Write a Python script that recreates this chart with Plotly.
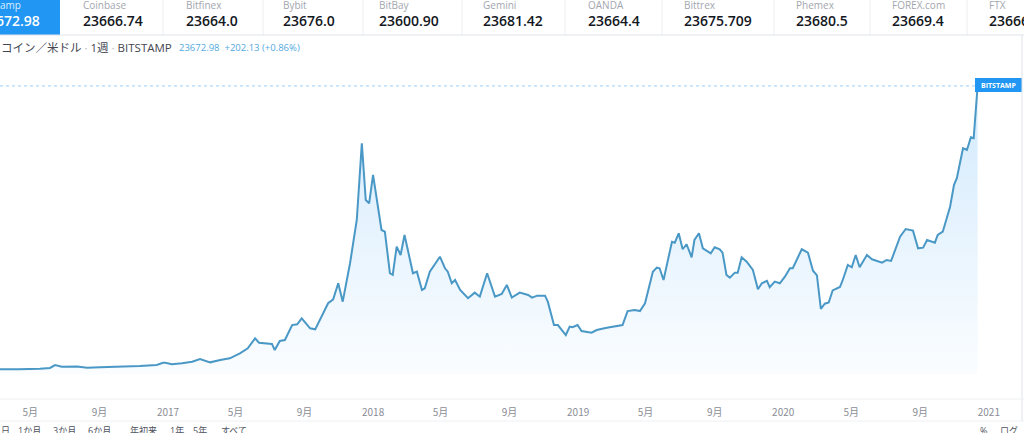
import plotly.graph_objects as go

W, H = 1024, 433

# weekly BTC/USD closes (Bitstamp)
dates = [
    "2016-03-01", "2016-03-08", "2016-04-10", "2016-05-18", "2016-06-05", "2016-06-14",
    "2016-06-26", "2016-07-23", "2016-08-10", "2016-09-02", "2016-10-02", "2016-11-12",
    "2016-12-12", "2016-12-23", "2016-12-27", "2017-01-08", "2017-01-26", "2017-02-13",
    "2017-02-27", "2017-03-17", "2017-04-04", "2017-04-21", "2017-05-09", "2017-05-23",
    "2017-06-05", "2017-06-12", "2017-07-05", "2017-07-10", "2017-07-19", "2017-07-28",
    "2017-08-10", "2017-08-19", "2017-08-27", "2017-09-11", "2017-09-20", "2017-09-28",
    "2017-10-13", "2017-10-22", "2017-10-31", "2017-11-08", "2017-11-21", "2017-12-03",
    "2017-12-12", "2017-12-19", "2017-12-25", "2018-01-01", "2018-01-16", "2018-01-22",
    "2018-01-31", "2018-02-05", "2018-02-12", "2018-02-19", "2018-02-26", "2018-03-13",
    "2018-03-20", "2018-03-29", "2018-04-03", "2018-04-12", "2018-04-30", "2018-05-09",
    "2018-05-14", "2018-05-21", "2018-05-27", "2018-06-05", "2018-06-19", "2018-07-01",
    "2018-07-10", "2018-07-23", "2018-08-06", "2018-08-18", "2018-08-27", "2018-09-05",
    "2018-09-19", "2018-10-04", "2018-10-11", "2018-10-20", "2018-11-03", "2018-11-08",
    "2018-11-19", "2018-11-26", "2018-12-10", "2018-12-17", "2018-12-22", "2018-12-31",
    "2019-01-07", "2019-01-25", "2019-02-03", "2019-02-21", "2019-03-11", "2019-03-21",
    "2019-03-30", "2019-04-12", "2019-04-21", "2019-04-30", "2019-05-14", "2019-05-21",
    "2019-05-26", "2019-06-02", "2019-06-17", "2019-06-22", "2019-06-29", "2019-07-06",
    "2019-07-13", "2019-07-22", "2019-07-27", "2019-08-04", "2019-08-11", "2019-08-25",
    "2019-09-01", "2019-09-10", "2019-09-15", "2019-09-22", "2019-09-28", "2019-10-07",
    "2019-10-12", "2019-10-19", "2019-10-28", "2019-11-08", "2019-11-17", "2019-11-24",
    "2019-12-03", "2019-12-08", "2019-12-17", "2019-12-26", "2020-01-04", "2020-01-13",
    "2020-01-18", "2020-02-03", "2020-02-14", "2020-02-23", "2020-03-01", "2020-03-08",
    "2020-03-15", "2020-03-22", "2020-03-29", "2020-04-11", "2020-04-16", "2020-04-25",
    "2020-05-02", "2020-05-09", "2020-05-16", "2020-05-29", "2020-06-07", "2020-06-25",
    "2020-07-03", "2020-07-11", "2020-07-27", "2020-08-06", "2020-08-19", "2020-08-28",
    "2020-09-06", "2020-09-13", "2020-09-27", "2020-10-02", "2020-10-11", "2020-10-18",
    "2020-10-24", "2020-10-31", "2020-11-05", "2020-11-16", "2020-11-23", "2020-11-30",
    "2020-12-05", "2020-12-12",
]
closes = [
    430, 420, 420, 460, 530, 770,
    630, 640, 550, 580, 600, 690,
    770, 960, 950, 830, 910, 1040,
    1260, 990, 1180, 1320, 1730, 2140,
    2960, 2600, 2500, 2000, 2740, 2820,
    4050, 4110, 4600, 3780, 3700, 4460,
    5840, 6160, 7480, 5970, 9120, 12670,
    18970, 14310, 14040, 16370, 11850, 11710,
    8300, 8160, 10480, 9800, 11440, 8300,
    8430, 6930, 7070, 8430, 9660, 8710,
    8430, 7480, 7750, 6930, 6250, 6710,
    6380, 8300, 6380, 6600, 7340, 6300,
    6710, 6520, 6300, 6460, 6460, 5970,
    4050, 4050, 3230, 3920, 3870, 4050,
    3560, 3420, 3640, 3830, 3970, 4050,
    5200, 5290, 5200, 5840, 8430, 8760,
    8710, 7750, 10890, 10810, 11580, 10270,
    10680, 9610, 11030, 11580, 10350, 9940,
    10430, 10270, 9990, 8160, 7940, 8350,
    8350, 9610, 9250, 8570, 6990, 7480,
    7670, 7150, 7610, 7480, 8020, 8710,
    8710, 10270, 9990, 8510, 8120, 5380,
    5800, 5900, 6890, 7170, 7750, 8980,
    8790, 9800, 8790, 9800, 9450, 9170,
    9390, 9310, 11300, 11930, 11800, 10350,
    10400, 11030, 10810, 11440, 11710, 12940,
    13760, 15550, 16100, 18560, 18420, 19460,
    19380, 23672.98,
]

tick_dates = ["2016-05-01", "2016-09-01", "2017-01-01", "2017-05-01", "2017-09-01",
              "2018-01-01", "2018-05-01", "2018-09-01", "2019-01-01", "2019-05-01",
              "2019-09-01", "2020-01-01", "2020-05-01", "2020-09-01", "2021-01-01"]
tick_text = ["5月", "9月", "2017", "5月", "9月", "2018", "5月", "9月", "2019", "5月",
             "9月", "2020", "5月", "9月", "2021"]

exchanges = ["Coinbase", "Bitfinex", "Bybit", "BitBay", "Gemini", "OANDA",
             "Bittrex", "Phemex", "FOREX.com", "FTX"]
quotes = ["23666.74", "23664.0", "23676.0", "23600.90", "23681.42", "23664.4",
          "23675.709", "23680.5", "23669.4", "23666.0"]
last_price = 23672.98

ranges = ["日", "1か月", "3か月", "6か月", "年初来", "1年", "5年", "すべて"]


def fx(p):
    return p / W


def fy(p):
    return 1 - p / H


FONT = "Open Sans, Noto Sans CJK JP, sans-serif"
BLUE = "#2196f3"
GRID = "#e0e3eb"

trace = go.Scatter(
    x=dates, y=closes, mode="lines",
    line=dict(color="#4a98c6", width=2),
    fill="tozeroy",
    fillgradient=dict(type="vertical",
                      colorscale=[[0, "rgba(33,150,243,0.02)"], [1, "rgba(33,150,243,0.2)"]]),
    hoverinfo="skip",
)

fig = go.Figure(trace)

shapes = []
annotations = []

# ticker strip
shapes.append(dict(type="rect", xref="paper", yref="paper", x0=-0.1, x1=fx(60),
                   y0=fy(35), y1=fy(-5), fillcolor=BLUE, line_width=0, layer="below"))
annotations.append(dict(x=fx(-23), y=fy(5), text="Bitstamp", font=dict(size=10, color="#dbeeff", family=FONT)))
annotations.append(dict(x=fx(-22), y=fy(20), text="23672.98",
                        font=dict(size=14, color="white", family=FONT, weight=600)))
seps = [163, 263, 363, 462, 565, 662, 774, 870, 967]
for s in seps:
    shapes.append(dict(type="line", xref="paper", yref="paper", x0=fx(s), x1=fx(s),
                       y0=fy(0), y1=fy(35), line=dict(color="#eceef2", width=1)))
lefts = [81, 184, 281, 377, 481, 586, 682, 794, 890, 987]
for lx, ex, q in zip(lefts, exchanges, quotes):
    annotations.append(dict(x=fx(lx), y=fy(5), text=ex, font=dict(size=10, color="#a3a6af", family=FONT)))
    annotations.append(dict(x=fx(lx), y=fy(20), text=q,
                            font=dict(size=14, color="#131722", family=FONT, weight=600)))
shapes.append(dict(type="line", xref="paper", yref="paper", x0=0, x1=1, y0=fy(35), y1=fy(35),
                   line=dict(color=GRID, width=1)))

# legend line
annotations.append(dict(x=fx(-1), y=fy(48),
                        text="コイン／米ドル <span style='color:#b2b5be'>·</span> 1週 <span style='color:#b2b5be'>·</span> BITSTAMP",
                        font=dict(size=11.5, color="#434651", family=FONT)))
annotations.append(dict(x=fx(177), y=fy(48), text="23672.98  +202.13 (+0.86%)",
                        font=dict(size=9.5, color="#53a9e0", family=FONT)))

# last price line and label
shapes.append(dict(type="line", xref="paper", yref="y", x0=0, x1=fx(975), y0=last_price, y1=last_price,
                   line=dict(color="rgba(33,150,243,0.45)", width=1, dash="dot")))
shapes.append(dict(type="rect", xref="paper", yref="paper", x0=fx(975), x1=fx(1022),
                   y0=fy(92), y1=fy(78), fillcolor=BLUE, line_width=0))
annotations.append(dict(x=fx(998.5), y=fy(85.5), xanchor="center", text="<b>BITSTAMP</b>",
                        font=dict(size=7, color="white", family=FONT)))

# frame lines
shapes.append(dict(type="line", xref="paper", yref="paper", x0=fx(1022), x1=fx(1022), y0=fy(35), y1=fy(421),
                   line=dict(color=GRID, width=1)))
for yy in (399, 421):
    shapes.append(dict(type="line", xref="paper", yref="paper", x0=0, x1=1, y0=fy(yy), y1=fy(yy),
                       line=dict(color="#eef0f3", width=1)))

# bottom toolbar (cut off by the crop)
range_x = [5, 29, 64, 99, 143, 177, 200, 234]
for rx, r in zip(range_x, ranges):
    annotations.append(dict(x=fx(rx), y=fy(430), xanchor="center", text=r,
                            font=dict(size=9, color="#50535e", family=FONT)))
annotations.append(dict(x=fx(983), y=fy(430), xanchor="center", text="%",
                        font=dict(size=9, color="#50535e", family=FONT)))
annotations.append(dict(x=fx(998), y=fy(430), text="ログ",
                        font=dict(size=9, color="#50535e", family=FONT)))

for a in annotations:
    a.setdefault("xref", "paper")
    a.setdefault("yref", "paper")
    a.setdefault("xanchor", "left")
    a.setdefault("yanchor", "middle")
    a["showarrow"] = False

fig.update_layout(
    width=W, height=H,
    margin=dict(l=0, r=0, t=0, b=0),
    paper_bgcolor="white", plot_bgcolor="white",
    showlegend=False,
    shapes=shapes,
    annotations=annotations,
    xaxis=dict(domain=[0, fx(1022)], range=["2016-03-08", "2021-03-01"],
               tickvals=tick_dates, ticktext=tick_text, showgrid=False, zeroline=False,
               showline=False, ticks="", ticklabelstandoff=10,
               tickfont=dict(size=10, color="#8a8d96", family="Liberation Sans Narrow, Noto Sans CJK JP")),
    yaxis=dict(domain=[fy(395), fy(60)], range=[-1690, 25800], visible=False),
)

fig.write_html("out.html", config={"displayModeBar": False},
               post_script="document.body.style.margin='0';")
